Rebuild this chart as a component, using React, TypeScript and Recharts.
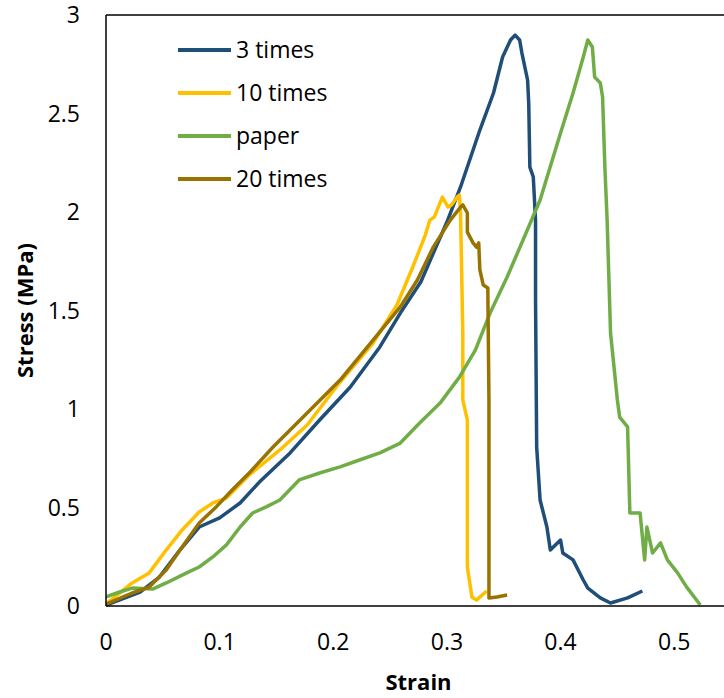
import { LineChart, Line, XAxis, YAxis, ReferenceLine } from 'recharts';

// strain / stress pairs
const STRAIN_3 = [0, 0.03, 0.047, 0.065, 0.082, 0.1, 0.118, 0.135, 0.162, 0.188, 0.215, 0.241, 0.259, 0.277, 0.3, 0.312, 0.329, 0.341, 0.349, 0.356, 0.36, 0.364, 0.366, 0.371, 0.372, 0.373, 0.376, 0.378, 0.378, 0.379, 0.382, 0.388, 0.391, 0.4, 0.402, 0.411, 0.42, 0.424, 0.435, 0.444, 0.459, 0.472];
const STRESS_3 = [0.005, 0.07, 0.147, 0.284, 0.401, 0.447, 0.523, 0.629, 0.777, 0.944, 1.112, 1.315, 1.487, 1.645, 1.949, 2.127, 2.416, 2.604, 2.787, 2.873, 2.898, 2.873, 2.807, 2.67, 2.553, 2.228, 2.178, 1.959, 1.553, 0.807, 0.538, 0.401, 0.284, 0.335, 0.269, 0.234, 0.132, 0.091, 0.041, 0.015, 0.041, 0.076];

const STRAIN_10 = [0, 0.023, 0.038, 0.053, 0.067, 0.082, 0.094, 0.106, 0.126, 0.153, 0.177, 0.206, 0.235, 0.256, 0.27, 0.281, 0.285, 0.289, 0.296, 0.301, 0.304, 0.309, 0.311, 0.312, 0.314, 0.314, 0.318, 0.318, 0.322, 0.326, 0.335];
const STRESS_10 = [0.01, 0.117, 0.168, 0.284, 0.386, 0.477, 0.523, 0.548, 0.665, 0.792, 0.919, 1.137, 1.335, 1.528, 1.721, 1.883, 1.959, 1.975, 2.076, 2.025, 2.036, 2.076, 2.086, 1.995, 1.386, 1.046, 0.944, 0.198, 0.046, 0.03, 0.076];

const STRAIN_PAPER = [0, 0.012, 0.023, 0.041, 0.053, 0.071, 0.082, 0.094, 0.106, 0.118, 0.129, 0.141, 0.153, 0.17, 0.188, 0.206, 0.223, 0.241, 0.259, 0.276, 0.294, 0.311, 0.325, 0.338, 0.353, 0.367, 0.382, 0.4, 0.411, 0.42, 0.424, 0.428, 0.43, 0.435, 0.437, 0.439, 0.441, 0.444, 0.45, 0.452, 0.459, 0.461, 0.47, 0.474, 0.476, 0.481, 0.488, 0.494, 0.503, 0.511, 0.523];
const STRESS_PAPER = [0.046, 0.071, 0.091, 0.086, 0.117, 0.168, 0.198, 0.249, 0.31, 0.401, 0.472, 0.503, 0.538, 0.64, 0.675, 0.706, 0.741, 0.777, 0.827, 0.929, 1.03, 1.162, 1.299, 1.487, 1.67, 1.858, 2.061, 2.401, 2.604, 2.787, 2.873, 2.838, 2.685, 2.655, 2.584, 2.228, 1.959, 1.386, 1.046, 0.959, 0.909, 0.472, 0.472, 0.234, 0.401, 0.269, 0.32, 0.234, 0.168, 0.096, 0.005];

const STRAIN_20 = [0, 0.023, 0.038, 0.053, 0.067, 0.082, 0.097, 0.111, 0.126, 0.147, 0.177, 0.206, 0.235, 0.259, 0.274, 0.288, 0.303, 0.312, 0.314, 0.318, 0.318, 0.323, 0.326, 0.328, 0.329, 0.332, 0.336, 0.337, 0.337, 0.344, 0.353];
const STRESS_20 = [0.01, 0.066, 0.096, 0.183, 0.299, 0.421, 0.503, 0.589, 0.675, 0.807, 0.98, 1.147, 1.35, 1.518, 1.655, 1.822, 1.959, 2.025, 2.036, 1.995, 1.898, 1.843, 1.822, 1.843, 1.706, 1.629, 1.614, 1.046, 0.041, 0.046, 0.056];

const X_TICKS = [0, 0.1, 0.2, 0.3, 0.4, 0.5];
const Y_TICKS = [0, 0.5, 1, 1.5, 2, 2.5, 3];

const toPoints = (strain: number[], stress: number[]) =>
  strain.map((s, i) => ({ strain: s, stress: stress[i] }));

const series = [
  { name: '3 times', color: '#1F4E79', data: toPoints(STRAIN_3, STRESS_3) },
  { name: '10 times', color: '#FFC000', data: toPoints(STRAIN_10, STRESS_10) },
  { name: 'paper', color: '#70AD47', data: toPoints(STRAIN_PAPER, STRESS_PAPER) },
  { name: '20 times', color: '#997300', data: toPoints(STRAIN_20, STRESS_20) },
];

const FONT = '"Open Sans", sans-serif';

// legend drawn like the Excel one: short line then label, sits inside the plot
const ChartLegend = () => (
  <div style={{ position: 'absolute', left: 178, top: 28 }}>
    {series.map(s => (
      <div key={s.name} style={{ display: 'flex', alignItems: 'center', height: 43 }}>
        <div style={{ width: 53, height: 4, background: s.color, marginRight: 5 }} />
        <span style={{ fontSize: 23, color: '#000', fontFamily: FONT, lineHeight: '43px' }}>{s.name}</span>
      </div>
    ))}
  </div>
);

export default function App() {
  return (
    <div style={{ position: 'absolute', left: 0, top: 0, width: 724, height: 698, overflow: 'hidden', background: '#fff', fontFamily: FONT }}>
      <LineChart width={740} height={698} margin={{ top: 15, right: 9, bottom: 0, left: 0 }}>
        <XAxis
          dataKey="strain"
          type="number"
          domain={[0, 0.55]}
          ticks={X_TICKS}
          allowDataOverflow
          height={92}
          tickLine={false}
          tickSize={0}
          tickMargin={28}
          axisLine={{ stroke: '#000', strokeWidth: 1.5 }}
          tick={{ fill: '#000', fontSize: 23, fontFamily: FONT }}
          label={{ value: 'Strain', position: 'insideBottom', offset: 8, fill: '#000', fontSize: 22, fontWeight: 700, fontFamily: FONT }}
        />
        <YAxis
          type="number"
          domain={[0, 3]}
          ticks={Y_TICKS}
          width={106}
          tickLine={false}
          tickSize={0}
          tickMargin={26}
          axisLine={{ stroke: '#000', strokeWidth: 1.5 }}
          tick={{ fill: '#000', fontSize: 23, fontFamily: FONT }}
          label={{ value: 'Stress (MPa)', angle: -90, position: 'insideLeft', offset: 25, style: { textAnchor: 'middle' }, fill: '#000', fontSize: 22, fontWeight: 700, fontFamily: FONT }}
        />
        <ReferenceLine y={3} stroke="#000" strokeWidth={1.5} />
        <ReferenceLine x={0.55} stroke="#000" strokeWidth={1.5} />
        {series.map(s => (
          <Line
            key={s.name}
            data={s.data}
            dataKey="stress"
            name={s.name}
            type="linear"
            stroke={s.color}
            strokeWidth={3.5}
            strokeLinejoin="round"
            dot={false}
            activeDot={false}
            isAnimationActive={false}
          />
        ))}
      </LineChart>
      <ChartLegend />
    </div>
  );
}
